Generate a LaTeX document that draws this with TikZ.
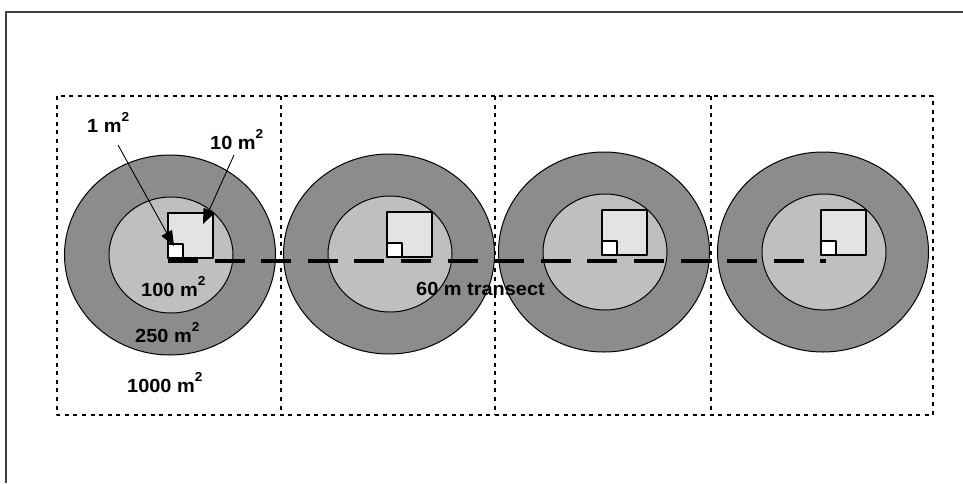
\documentclass[tikz,border=0pt]{standalone}
\usepackage{fontspec}
\setmainfont[FakeStretch=1.05]{Liberation Sans}
\usetikzlibrary{arrows.meta}
\definecolor{ringgray}{gray}{0.55}
\definecolor{plotgray}{gray}{0.75}
\definecolor{subgray}{gray}{0.89}
\definecolor{framegray}{gray}{0.25}
\newcommand{\sqm}{m\raisebox{11pt}{\fontsize{13}{13}\selectfont 2}}

\tikzset{
  lbl/.style={font=\fontsize{19}{22}\selectfont\bfseries, inner sep=0pt, anchor=base west},
  cellframe/.style={line width=1.8pt, dash pattern=on 4pt off 4.6pt, line cap=butt},
  ring/.style={draw, line width=1pt, fill=ringgray},
  core/.style={draw, line width=1pt, fill=plotgray},
  quad/.style={draw, line width=1.5pt, fill=subgray},
  subquad/.style={draw, line width=1.5pt, fill=white},
  transect/.style={line width=4pt, dash pattern=on 30pt off 16.6pt, line cap=butt},
  pointer/.style={line width=0.9pt, -{Triangle[length=15pt,width=12pt]}},
}

\begin{document}
\begin{tikzpicture}[line join=round,x=1pt,y=-1pt]
\useasboundingbox (0,0) rectangle (963,483);
% outer frame
\draw[framegray, line width=2pt] (6,483) -- (6,12) -- (963,12);
% plot cells
\draw[cellframe] (57,96) rectangle (933,415);
\foreach \xd in {281,495,711}
  \draw[cellframe] (\xd,96) -- (\xd,415);
%
\foreach \px/\py [count=\i] in {168/258, 387/257, 602/255, 821/255}{
\begin{scope}[shift={(\px,\py)}]
\draw[ring] (2,-3) ellipse [x radius=105.5, y radius=100];
\draw[core] (3,-3) ellipse [x radius=62, y radius=58];
\draw[quad] (0,0) rectangle (45,-45);
\draw[subquad] (0,0) rectangle (15,-14);
\end{scope}
}
% transect
\coordinate (tstart) at (168,261);
\coordinate (tend) at (826,261);
\draw[transect] (tstart) -- (tend);
%
\node[lbl] (one) at (87,132) {1 \sqm};
\node[lbl] (ten) at (210,149) {10 \sqm};
\node[lbl] (hundred) at (141,296) {100 \sqm};
\node[lbl] (twofifty) at (135,342) {250 \sqm};
\node[lbl] (thousand) at (127,392) {1000 \sqm};
\node[lbl] (translbl) at (416,295) {60 m transect};
%
\coordinate (from1) at (118,145);
\coordinate (tip1) at (174,246);
\coordinate (from10) at (234,155);
\coordinate (tip10) at (203,224);
\draw[pointer] (from1) -- (tip1);
\draw[pointer] (from10) -- (tip10);
\end{tikzpicture}
\end{document}
